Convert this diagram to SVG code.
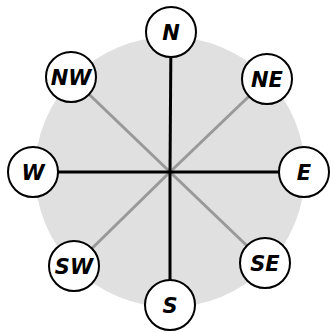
<svg xmlns="http://www.w3.org/2000/svg" width="333" height="332" viewBox="0 0 333 332">
<style>
.node circle{fill:#fff;stroke:#000;stroke-width:2}
.node text{font-family:"DejaVu Sans","Liberation Sans",sans-serif;font-weight:bold;font-style:italic;font-size:21px;text-anchor:middle;dominant-baseline:central;fill:#000}
.card{stroke:#000;stroke-width:3}
.diag{stroke:#999;stroke-width:3}
</style>
<rect width="333" height="332" fill="#fff"/>
<circle cx="170" cy="172" r="135" fill="#e0e0e0"/>
<g id="connectors">
<line class="diag" x1="170" y1="172" x2="71" y2="77"/>
<line class="diag" x1="170" y1="172" x2="267" y2="79"/>
<line class="diag" x1="170" y1="172" x2="74" y2="266"/>
<line class="diag" x1="170" y1="172" x2="265" y2="263"/>
<line class="card" x1="170" y1="172" x2="171" y2="33"/>
<line class="card" x1="170" y1="172" x2="170" y2="305"/>
<line class="card" x1="170" y1="172" x2="33" y2="172"/>
<line class="card" x1="170" y1="172" x2="304" y2="172"/>
</g>
<g id="N" class="node"><circle cx="171" cy="32" r="25"/><text x="171" y="33">N</text></g>
<g id="NE" class="node"><circle cx="267" cy="79" r="25"/><text x="267" y="80">NE</text></g>
<g id="E" class="node"><circle cx="304" cy="172" r="25"/><text x="304" y="173">E</text></g>
<g id="SE" class="node"><circle cx="265" cy="263" r="25"/><text x="265" y="264">SE</text></g>
<g id="S" class="node"><circle cx="170" cy="305" r="25"/><text x="170" y="306">S</text></g>
<g id="SW" class="node"><circle cx="74" cy="266" r="25"/><text x="74" y="267">SW</text></g>
<g id="W" class="node"><circle cx="33" cy="172" r="25"/><text x="33" y="173">W</text></g>
<g id="NW" class="node"><circle cx="71" cy="77" r="25"/><text x="71" y="78">NW</text></g>
</svg>
